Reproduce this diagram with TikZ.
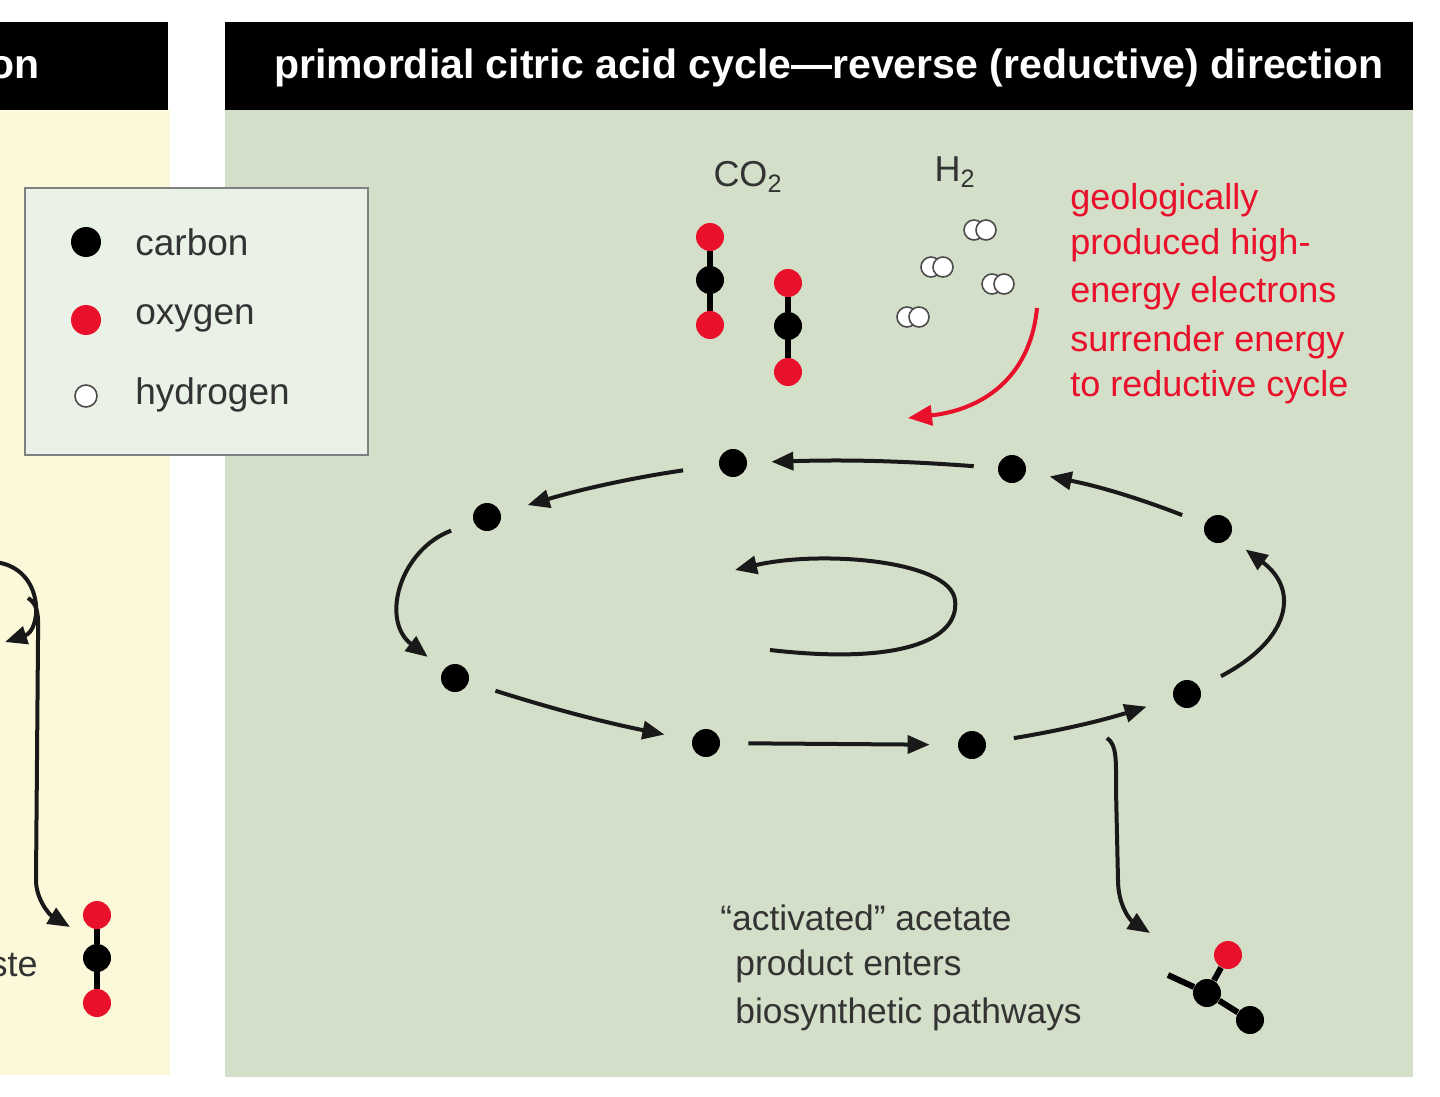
\documentclass[tikz,border=0pt]{standalone}
\usepackage{fontspec}
\setmainfont{Liberation Sans}
\usetikzlibrary{arrows.meta}
\definecolor{ylw}{HTML}{FCF9DA}
\definecolor{grn}{HTML}{D3DFC8}
\definecolor{lgd}{HTML}{EAF1E6}
\definecolor{myred}{HTML}{E8102A}
\definecolor{txt}{HTML}{333333}
\begin{document}
\begin{tikzpicture}[x=0.5pt,y=-0.5pt,
  cat/.style={circle,fill=black,inner sep=0pt,minimum size=14pt},
  oat/.style={circle,fill=myred,inner sep=0pt,minimum size=14pt},
  hat/.style={circle,draw=black!70,fill=white,line width=0.8pt,inner sep=0pt,minimum size=10pt},
  cyc/.style={-{Triangle[length=11pt,width=9pt]},line width=2pt,black!90},
  bond/.style={line width=3pt},
  lab/.style={font=\fontsize{18}{20}\selectfont,text=txt,inner sep=0pt},
  rlab/.style={font=\fontsize{18}{24}\selectfont,text=myred,inner sep=0pt,align=left,anchor=west}]
\useasboundingbox (0,0) rectangle (1440,1097);
\fill[white] (0,0) rectangle (1440,1097);
% left panel
\fill[black] (0,22) rectangle (168,110);
\node[font=\bfseries\fontsize{20.5}{22}\selectfont,text=white,anchor=east,inner sep=0pt] (lt) at (40,68) {on};
\fill[ylw] (0,110) rectangle (170,1075);
% right panel
\fill[black] (225,22) rectangle (1413,110);
\fill[grn] (225,110) rectangle (1413,1077);
\node[font=\bfseries\fontsize{20.5}{22}\selectfont,text=white,inner sep=0pt] (title) at (829,68) {primordial citric acid cycle—reverse (reductive) direction};
% legend
\draw[black!50,fill=lgd,line width=1.2pt] (25,188) rectangle (368,455);
\node[cat,minimum size=15pt] (lc) at (86,242) {};
\node[oat,minimum size=15pt] (lo) at (86,320) {};
\node[hat,minimum size=11pt] (lh) at (86,396) {};
\node[lab,anchor=west,font=\fontsize{18.5}{20}\selectfont] (tc) at (135,242) {carbon};
\node[lab,anchor=west,font=\fontsize{18.5}{20}\selectfont] (to) at (135,318) {oxygen};
\node[lab,anchor=west,font=\fontsize{18.5}{20}\selectfont] (th) at (135,395) {hydrogen};
% left bits
\draw[cyc] (-5,562) .. controls (45,568) and (42,630) .. (5,642);
\coordinate (lb0) at (28,598);
\node[cat] (l1) at (97,958) {};
\node[oat] (l0) at (97,915) {};
\node[oat] (l2) at (97,1003) {};
\draw[bond] (l0) -- (l1) -- (l2);
\draw[cyc] (lb0) .. controls (40,605) and (38,620) .. (38,640) -- (36,880) .. controls (36,900) and (50,915) .. (70,927);
\node[lab,anchor=east] (ste) at (38,965) {ste};
% CO2 and H2
\node[lab] (co2) at (748,177) {CO\textsubscript{2}};
\node[lab] (h2) at (955,172) {H\textsubscript{2}};
\node[oat] (a1) at (710,237) {};
\node[cat] (a2) at (710,280) {};
\node[oat] (a3) at (710,325) {};
\draw[bond] (a1) -- (a2) -- (a3);
\node[oat] (b1) at (788,283) {};
\node[cat] (b2) at (788,326) {};
\node[oat] (b3) at (788,372) {};
\draw[bond] (b1) -- (b2) -- (b3);
\foreach \x/\y [count=\i] in {980/230,937/267,998/284,913/317}{
  \node[hat] (h\i a) at (\x-6,\y) {};
  \node[hat] (h\i b) at (\x+6,\y) {};
}
\coordinate (rs) at (1037,308);
\coordinate (re) at (908,418);
\draw[-{Triangle[length=12pt,width=10pt]},line width=2pt,myred] (rs) .. controls (1030,380) and (980,410) .. (re);
\node[rlab] (r1) at (1070,200) {geologically};
\node[rlab] (r2) at (1070,245) {produced high-};
\node[rlab] (r3) at (1070,293) {energy electrons};
\node[rlab] (r4) at (1070,342) {surrender energy};
\node[rlab] (r5) at (1070,387) {to reductive cycle};
% cycle
\node[cat] (n1) at (733,463) {};
\node[cat] (n2) at (1012,469) {};
\node[cat] (n3) at (1218,529) {};
\node[cat] (n4) at (1187,694) {};
\node[cat] (n5) at (972,745) {};
\node[cat] (n6) at (706,743) {};
\node[cat] (n7) at (455,678) {};
\node[cat] (n8) at (487,517) {};
\draw[cyc,shorten <=12pt,shorten >=12pt] (n2) to[bend right=3] (n1);
\draw[cyc,shorten <=12pt,shorten >=12pt] (n3) to[bend right=5] (n2);
\draw[cyc,shorten <=12pt,shorten >=10pt] (n4) .. controls (1290,640) and (1300,590) .. (n3);
\draw[cyc,shorten <=14pt,shorten >=14pt] (n5) to[bend left=-4] (n4);
\draw[cyc,shorten <=14pt,shorten >=14pt] (n6) -- (n5);
\draw[cyc,shorten <=14pt,shorten >=14pt] (n7) to[bend right=3] (n6);
\draw[cyc,shorten <=12pt,shorten >=10pt] (n8) .. controls (400,550) and (380,620) .. (n7);
\draw[cyc,shorten <=18pt,shorten >=14pt] (n1) to[bend right=4] (n8);
% inner loop
\coordinate (i0) at (770,650);
\coordinate (i1) at (735,570);
\draw[cyc] (i0) .. controls (900,665) and (960,640) .. (955,600) .. controls (950,560) and (820,550) .. (i1);
% branch
\coordinate (br) at (1107,738);
\node[cat] (c1) at (1207,993) {};
\node[oat] (c2) at (1228,955) {};
\node[cat] (c3) at (1250,1020) {};
\coordinate (cs) at (1168,975);
\draw[bond] (cs) -- (c1) -- (c2);
\draw[bond] (c1) -- (c3);
\draw[cyc] (br) .. controls (1117,745) and (1116,760) .. (1116,790) -- (1118,880) .. controls (1118,905) and (1130,920) .. (1150,933);
\node[lab,anchor=west,font=\fontsize{17.7}{20}\selectfont] (p1) at (720,918) {“activated” acetate};
\node[lab,anchor=west,font=\fontsize{17.7}{20}\selectfont] (p2) at (735,966) {product enters};
\node[lab,anchor=west,font=\fontsize{17.7}{20}\selectfont] (p3) at (735,1014) {biosynthetic pathways};
\end{tikzpicture}
\end{document}
